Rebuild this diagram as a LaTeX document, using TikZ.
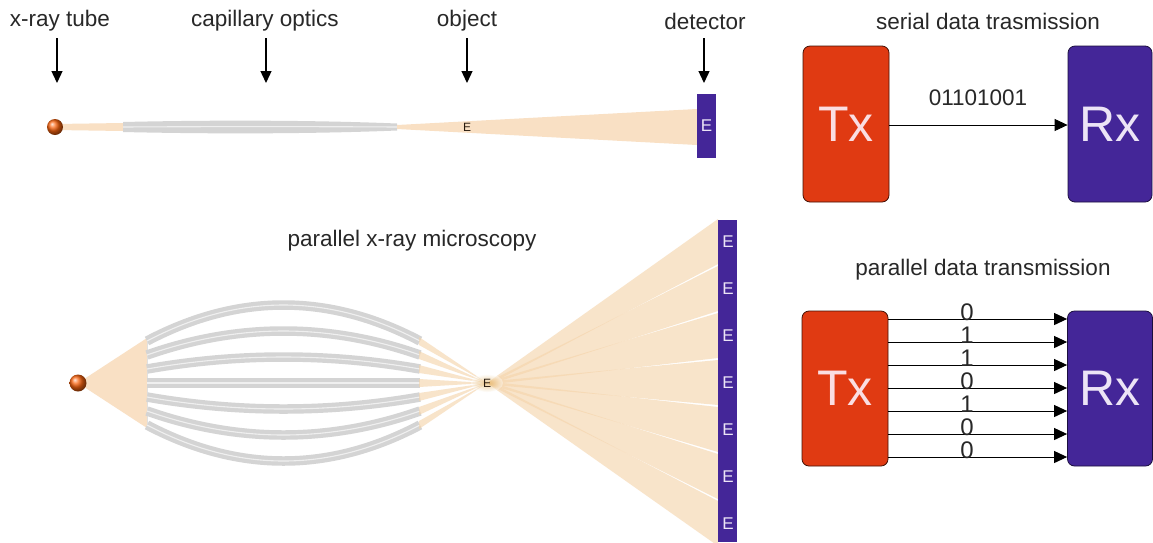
\documentclass[tikz,border=0pt]{standalone}
\usepackage{fontspec}
\setmainfont{Liberation Sans}
\usetikzlibrary{arrows.meta}
\definecolor{beam}{RGB}{249,224,196}
\definecolor{raycol}{RGB}{245,212,170}
\definecolor{glow}{RGB}{215,150,40}
\definecolor{tubegray}{RGB}{212,212,212}
\definecolor{txred}{RGB}{224,58,18}
\definecolor{rxpurple}{RGB}{68,38,152}
\definecolor{txtext}{RGB}{250,222,226}
\definecolor{rxtext}{RGB}{236,228,246}
\definecolor{inktext}{RGB}{40,40,40}
\begin{document}
\begin{tikzpicture}[x=1pt,y=-1pt,
  lbl/.style={font=\fontsize{22.5}{26}\selectfont, text=inktext, inner sep=0pt},
  bit/.style={font=\fontsize{24}{26}\selectfont, text=inktext, inner sep=0pt},
  arr/.style={line width=1.3pt, -{Triangle[length=12pt,width=11pt]}},
  darr/.style={line width=1pt, -{Triangle[length=13pt,width=12pt]}},
  txbox/.style={draw=black!70!txred, line width=0.8pt, fill=txred, rounded corners=7pt,
    text=txtext, font=\fontsize{50}{50}\selectfont},
  rxbox/.style={draw=black!60!rxpurple, line width=0.8pt, fill=rxpurple, rounded corners=7pt,
    text=rxtext, font=\fontsize{50}{50}\selectfont},
  det/.style={fill=rxpurple, draw=none},
  detE/.style={text=rxtext, font=\fontsize{17}{17}\selectfont, inner sep=0pt},
  objE/.style={text=black!80!brown, font=\fontsize{12}{12}\selectfont, inner sep=0pt},
  tube/.style={draw=tubegray, line width=9.5pt},
  stripe/.style={draw=white, line width=1.1pt, opacity=0.65},
  ray/.style={fill=raycol, opacity=0.62},
  src/.style={shading=ball, ball color={rgb,255:red,250;green,100;blue,15}}]
\useasboundingbox[fill=white] (0,0) rectangle (1153,542);

%% ---------- single-channel microscope ----------
\node[lbl] (lxt) at (60,21) {x-ray tube};
\node[lbl] (lcap) at (265,21) {capillary optics};
\node[lbl] (lobj) at (467,21) {object};
\node[lbl] (ldet) at (705,21) {detector};
\foreach \n/\x in {xt/57, cap/266, obj/467, det/704}{
  \coordinate (\n-a) at (\x,38);
  \coordinate (\n-b) at (\x,83);
  \draw[arr] (\n-a) -- (\n-b);
}
% beam from source into the capillary
\fill[beam] (55,124) -- (123,123) -- (123,131) -- (55,130) -- cycle;
% capillary
\fill[tubegray] (123,122) .. controls (210,120) and (310,120) .. (397,123.5)
  -- (397,130.5) .. controls (310,134) and (210,134) .. (123,132) -- cycle;
\draw[stripe] (123,127) .. controls (210,126.5) and (310,126.5) .. (397,127);
% diverging beam to the detector
\fill[beam] (397,125) -- (697,109) -- (697,145) -- (397,129) -- cycle;
\node[objE] (e0) at (467,127) {E};
\node[det, minimum width=19pt, minimum height=64pt, inner sep=0pt] (d0) at (706.5,126) {};
\node[detE] at (d0.center) {E};
\shade[src] (55,127) circle (8);

%% ---------- parallel microscope ----------
\node[lbl] (lpar) at (412,241) {parallel x-ray microscopy};
% source cone
\fill[beam] (78,383) -- (147,338) -- (147,428) -- cycle;
\draw[black!12, line width=0.8pt] (147,338) -- (147,428);
% bent capillaries
\foreach \i in {-3,...,3}{
  \draw[tube] (147,383+14*\i) .. controls (238,383+30*\i) and (329,383+30*\i) .. (420,383+14*\i);
  \draw[stripe] (147,383+14*\i) .. controls (238,383+30*\i) and (329,383+30*\i) .. (420,383+14*\i);
}
\coordinate (obj) at (487,383);
% converging beams onto the object
\foreach \i in {-3,...,3}{
  \fill[ray] (419,383+14*\i-4) -- (obj) -- (419,383+14*\i+4) -- cycle;
}
% diverging beams onto the detector pixels
\foreach \k in {-3,...,3}{
  \fill[ray] (489,381.5) -- (718,383+47*\k-23) -- (718,383+47*\k+22) -- (489,384.5) -- cycle;
}
% focal spot glow
\shade[inner color=glow, outer color=white, opacity=0.45] (obj) ellipse (16 and 9);
\node[objE] (e1) at (obj) {E};
\node[det, minimum width=19pt, minimum height=322pt, inner sep=0pt, anchor=north west] (d1) at (718,220) {};
\foreach \k in {-3,...,3}{
  \node[detE] at (728,383+47*\k) {E};
}
\shade[src] (78,383) circle (8.5);

%% ---------- serial data transmission ----------
\node[lbl] (lser) at (988,21) {serial data trasmission};
\node[txbox, minimum width=86pt, minimum height=156pt] (tx1) at (846,124) {Tx};
\node[rxbox, minimum width=84pt, minimum height=156pt] (rx1) at (1110,124) {Rx};
\draw[darr] (tx1.east |- 0,125) -- (rx1.west |- 0,125);
\node[lbl] (bits) at (978,98) {01101001};

%% ---------- parallel data transmission ----------
\node[lbl] (lpdt) at (983,270) {parallel data transmission};
\node[txbox, minimum width=86pt, minimum height=155pt] (tx2) at (845,388.5) {Tx};
\node[rxbox, minimum width=85pt, minimum height=155pt] (rx2) at (1110,388.5) {Rx};
\foreach \b [count=\j from 0] in {0,1,1,0,1,0,0}{
  \coordinate (p\j) at (0,319+23*\j);
  \draw[darr] (tx2.east |- p\j) -- (rx2.west |- p\j);
  \node[bit, anchor=base] at (967,319+23*\j+1) {\b};
}
\end{tikzpicture}
\end{document}
